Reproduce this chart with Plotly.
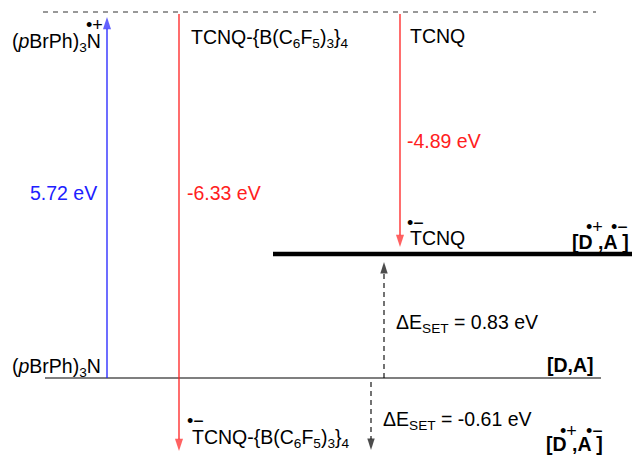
import plotly.graph_objects as go

FONT = "Liberation Sans, Arial, sans-serif"
FS = 19.5
CS = 18  # charge-sign font size

# ---- data ----
species = ["(<i>p</i>BrPh)<sub>3</sub>N", "TCNQ-{B(C<sub>6</sub>F<sub>5</sub>)<sub>3</sub>}<sub>4</sub>", "TCNQ"]
transition_energies = [5.72, -6.33, -4.89]          # eV (IP of donor, EA of acceptors)
transition_colors = ["#2020ff", "#ff2020", "#ff2020"]
set_energies = [0.83, -0.61]                         # eV, ΔE_SET for TCNQ and for the complex

# schematic (not-to-scale) level heights, diagram units increasing downward
level_names = ["vacuum", "[D+,A-] TCNQ", "[D,A]", "[D+,A-] complex"]
level_y = [12, 254, 378, 456]
level_x0 = [43, 273, 45, None]
level_x1 = [596, 632, 601, None]

# columns of the arrows
arrow_x = [107, 179, 400]      # transitions
set_x = [384, 371]             # ΔE_SET arrows

fig = go.Figure()

# levels
styles = [dict(color="#333333", width=1.2, dash="5px,5px"),
          dict(color="#000000", width=4.5),
          dict(color="#555555", width=1.6)]
for i in range(3):
    fig.add_trace(go.Scatter(x=[level_x0[i], level_x1[i]], y=[level_y[i], level_y[i]],
                             mode="lines", line=styles[i], hoverinfo="skip", showlegend=False))

def arrow(x, y0, y1, color, width=1.3, dash="solid", head=13):
    fig.add_trace(go.Scatter(x=[x, x], y=[y0, y1], mode="lines+markers",
                             line=dict(color=color, width=width, dash=dash),
                             marker=dict(symbol="arrow", size=[0, head], angleref="previous",
                                         color=color, line=dict(width=0)),
                             hoverinfo="skip", showlegend=False))

# transitions: donor up from ground to vacuum, acceptors down from vacuum
arrow(arrow_x[0], level_y[2], level_y[0] + 5, transition_colors[0])
arrow(arrow_x[1], level_y[0] + 2, level_y[3] - 5, transition_colors[1])
arrow(arrow_x[2], level_y[0] + 2, level_y[1] - 7, transition_colors[2])
# ΔE_SET arrows
arrow(set_x[0], level_y[2], level_y[1] + 8, "#000000", width=1.1, dash="5px,4px", head=12)
arrow(set_x[1], level_y[2] + 4, level_y[3] - 6, "#000000", width=1.1, dash="5px,4px", head=12)

ann = []
def text(x, y, s, color="#000000", size=FS, xanchor="left", yanchor="middle"):
    ann.append(dict(x=x, y=y, text=s, showarrow=False, xanchor=xanchor, yanchor=yanchor,
                    font=dict(family=FONT, size=size, color=color), xref="x", yref="y"))

# top labels
text(10, 42, species[0])
text(84, 25, "•+", size=CS)
text(189, 38, species[1])
text(408, 36, species[2])

# energies
text(28, 193, f"{transition_energies[0]:.2f} eV", color=transition_colors[0])
text(185, 193, f"{transition_energies[1]:.2f} eV", color=transition_colors[1])
text(405, 141, f"{transition_energies[2]:.2f} eV", color=transition_colors[2])

# TCNQ radical anion
text(408, 238, "TCNQ")
text(405, 223, "•−", size=CS)

# CT state [D•+,A•−] at TCNQ level
text(631, 242, "<b>[D ,A ]</b>", xanchor="right")
text(584, 227, "•+", size=CS)
text(609, 227, "•−", size=CS)

# ΔE_SET labels
text(394, 323, f"ΔE<sub>SET</sub> = {set_energies[0]:.2f} eV")
text(381, 420, f"ΔE<sub>SET</sub> = {set_energies[1]:.2f} eV")

# ground state
text(10, 367, species[0])
text(596, 365, "<b>[D,A]</b>", xanchor="right")

# complex radical anion
text(190, 438, species[1])
text(185, 421, "•−", size=CS)

# CT state at complex level
text(605, 444, "<b>[D ,A ]</b>", xanchor="right")
text(558, 431, "•+", size=CS)
text(584, 431, "•−", size=CS)

fig.update_layout(
    width=632, height=456,
    margin=dict(l=0, r=0, t=0, b=0),
    paper_bgcolor="white", plot_bgcolor="white",
    xaxis=dict(range=[0, 632], visible=False, fixedrange=True),
    yaxis=dict(range=[456, 0], visible=False, fixedrange=True),
    annotations=ann,
    showlegend=False,
)

fig.write_html("out.html", config={"displayModeBar": False},
               post_script="document.body.style.margin='0px';document.body.style.overflow='hidden';")
